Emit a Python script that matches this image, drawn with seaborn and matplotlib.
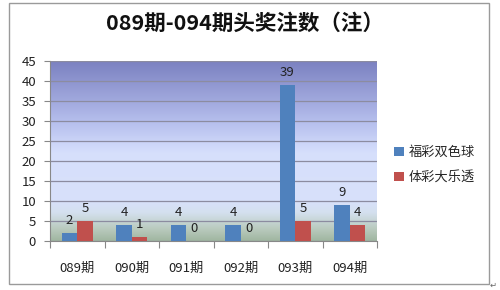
import numpy as np
import pandas as pd
import matplotlib
matplotlib.use("Agg")
import matplotlib.pyplot as plt
from matplotlib.patches import Patch, Rectangle
import seaborn as sns

categories = ["089期", "090期", "091期", "092期", "093期", "094期"]
series_names = ["福彩双色球", "体彩大乐透"]
fucai = [2, 4, 4, 4, 39, 9]
ticai = [5, 1, 0, 0, 5, 4]
yticks = [0, 5, 10, 15, 20, 25, 30, 35, 40, 45]
title = "089期-094期头奖注数（注）"

sns.set_theme(style="white")
plt.rcParams['font.family'] = ['Noto Sans CJK SC', 'DejaVu Sans']

df = pd.DataFrame({
    "期": categories * 2,
    "系列": [series_names[0]] * len(categories) + [series_names[1]] * len(categories),
    "注数": fucai + ticai,
})

colors = ["#4f81bd", "#c0504d"]
fig = plt.figure(figsize=(5.0, 2.9), dpi=100)
ax = fig.add_axes([0.10, 0.169, 0.654, 0.621])

# gradient background
stops_v = [0, 3, 7, 10, 22, 30, 45]
stops_c = np.array([
    (160, 182, 160),
    (185, 202, 190),
    (212, 224, 238),
    (216, 225, 250),
    (214, 223, 252),
    (180, 189, 236),
    (122, 128, 192),
]) / 255.0
yy = np.linspace(0, 45, 400)
grad = np.stack([np.interp(yy, stops_v, stops_c[:, i]) for i in range(3)], axis=-1)
grad = grad[:, None, :]
ax.imshow(grad, extent=[-0.5, 5.5, 0, 45], origin="lower", aspect="auto", zorder=0)

sns.barplot(data=df, x="期", y="注数", hue="系列", palette=colors, width=0.57,
            ax=ax, legend=False, zorder=3, linewidth=0, saturation=1)

for cont in ax.containers:
    ax.bar_label(cont, padding=4.5, fontsize=9.5, color="#222222")

ax.set_xlim(-0.5, 5.5)
ax.set_ylim(0, 45)
ax.set_yticks(yticks)
ax.set_yticklabels([str(v) for v in yticks], fontsize=9.5, color="#222222")
ax.grid(axis="y", color="#8c8ca0", linewidth=0.9, zorder=1)
ax.set_axisbelow(False)
for gl in ax.get_ygridlines():
    gl.set_zorder(1)
ax.set_xlabel("")
ax.set_ylabel("")
ax.set_xticks(range(len(categories)))
ax.set_xticklabels(categories, fontsize=9.5, color="#222222")
ax.set_xticks(np.arange(-0.5, 6.0, 1.0), minor=True)
ax.tick_params(axis="x", which="major", length=0, pad=15)
ax.tick_params(axis="x", which="minor", length=5, color="#888888", width=0.8, direction="out", bottom=True)
ax.tick_params(axis="y", length=4, color="#888888", width=0.8, direction="out", left=True, pad=6)
for s in ["top", "right"]:
    ax.spines[s].set_visible(False)
ax.spines["left"].set_color("#888888")
ax.spines["bottom"].set_color("#888888")
ax.spines["left"].set_linewidth(0.8)
ax.spines["bottom"].set_linewidth(0.8)

handles = [Patch(facecolor=c, edgecolor="none") for c in colors]
fig.legend(handles, series_names, loc="center left", bbox_to_anchor=(0.765, 0.43),
           frameon=False, fontsize=9.5, handlelength=0.7, handleheight=0.7,
           handletextpad=0.4, labelspacing=0.9)

fig.text(0.49, 0.92, title, ha="center", va="center", fontsize=15.5, fontweight="bold",
         color="#111111")

fig.patches.append(Rectangle((9 / 500, 6 / 290), 480 / 500, 281 / 290, transform=fig.transFigure,
                             fill=False, edgecolor="#9a9a9a", linewidth=1.0))
fig.text(493 / 500, 5 / 290, "↵", fontsize=6, color="#666666", ha="center", va="center",
         family="DejaVu Sans")

fig.savefig("out.png", dpi=100)
